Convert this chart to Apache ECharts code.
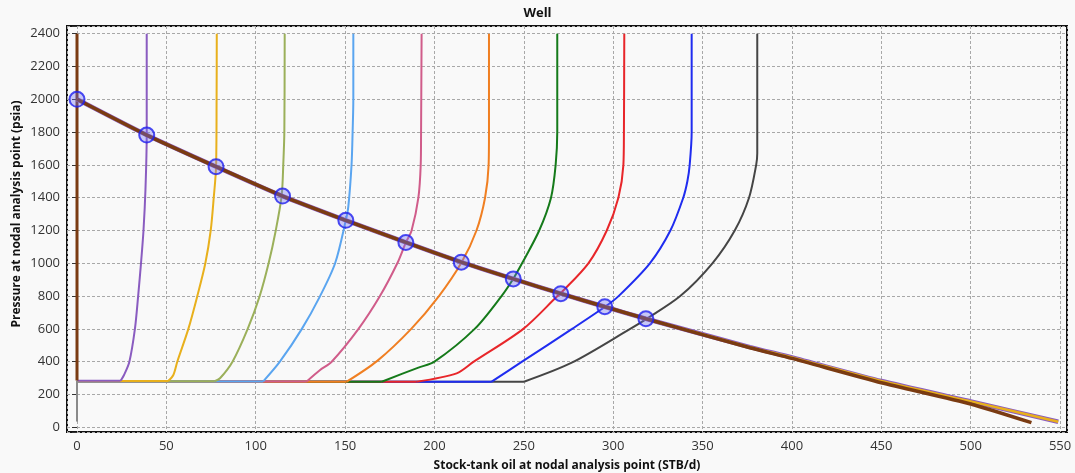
<!DOCTYPE html>
<html><head><meta charset="utf-8">
<script src="https://cdn.jsdelivr.net/npm/echarts@6/dist/echarts.min.js"></script>
<style>html,body{margin:0;padding:0;background:#f9f9f9}#c{width:1075px;height:473px}</style>
</head><body><div id="c"></div>
<script>
// ---- data (rate STB/d, pressure psia) ----
const xTickValues = [0,50,100,150,200,250,300,350,400,450,500,550];
const yTickValues = [0,200,400,600,800,1000,1200,1400,1600,1800,2000,2200,2400];

const vlpBrown  = [[0,2400],[0,285]];
const stemGray  = [[0,285],[0,35]];
const vlpPurple = [[39,2400],[39,1782],[38.3,1450],[37.2,1200],[35.8,1000],[34.2,800],[32.4,600],[29.3,400],[26.3,319],[24.4,284],[0,284]];
const vlpYellow = [[78.2,2400],[78.1,2000],[77.8,1589],[76.5,1400],[74.8,1200],[71.8,1000],[67.3,800],[62.3,600],[56.1,400],[53.9,319],[51,282],[0,282]];
const vlpOlive  = [[116.2,2400],[116,1800],[115.4,1600],[114.5,1412],[111.2,1200],[107.2,1000],[102.2,800],[95.5,600],[87,400],[80,299],[77,281],[0,281]];
const vlpSky    = [[154.6,2400],[154.6,2000],[154.2,1800],[153.6,1600],[151.8,1345],[150.4,1262],[144.4,1000],[136,800],[125.8,600],[113.5,400],[104.2,280],[0,280]];
const vlpPink   = [[192.8,2400],[192.5,1800],[192.3,1600],[191,1400],[187.2,1200],[184,1127],[179.2,1000],[169.5,800],[157.5,600],[142.5,400],[136,349],[128.5,279],[0,279]];
const vlpOrange = [[230.5,2400],[230.5,1800],[230.3,1600],[228.3,1400],[223.5,1200],[215.2,1006],[202.5,800],[187,600],[168,405],[150.9,278],[0,278]];
const vlpGreen  = [[268.7,2400],[268.7,1800],[267.8,1600],[265.2,1400],[258.6,1200],[249,1000],[244.1,906],[237.5,800],[222.5,600],[200,400],[191,364],[170.5,278],[0,278]];
const vlpRed    = [[306.2,2400],[306,1800],[305.7,1600],[302.9,1400],[296.4,1200],[286.1,1000],[270.6,817],[268.8,800],[249.7,600],[222,400],[212.4,329],[190,278],[0,278]];
const vlpBlue   = [[343.9,2400],[343.9,1800],[342.8,1600],[341.5,1500],[339.2,1400],[332,1200],[320.5,1000],[303,800],[295.4,735],[277,600],[249,400],[232,278],[0,278]];
const vlpGray   = [[380.6,2400],[380.6,1671],[380,1600],[376,1400],[368,1200],[355.5,1000],[337.5,800],[318.2,658],[309.5,600],[276.8,394],[250.1,278],[0,278]];

const iprMain = [[0,2000],[39,1782],[77.8,1589],[115,1410],[150.4,1262],[184,1127],[215,1007],[244.1,905],[270.7,815],[295.3,735],[318.3,662],[376.5,485],[400,420],[450,272],[500,142],[534,28]];
const iprAlt  = [[0,2000],[39,1782],[77.8,1589],[115,1410],[150.4,1262],[184,1127],[215,1007],[244.1,905],[270.7,815],[295.3,735],[318.3,662],[376.5,489],[400,426],[450,282],[500,158],[549,34]];

const opQ = [0,39,77.8,115,150.4,184,215,244.1,270.7,295.3,318.3];
const opP = [2000,1782,1589,1410,1262,1127,1007,905,815,735,662];

// ---- chart ----
const curves = [
  {d: vlpGray,   c: '#454545'},
  {d: vlpBlue,   c: '#1f2cf0'},
  {d: vlpRed,    c: '#e8262a'},
  {d: vlpGreen,  c: '#157a1a'},
  {d: vlpOrange, c: '#f07f22'},
  {d: vlpPink,   c: '#d05c8a'},
  {d: vlpSky,    c: '#5aa5f0'},
  {d: vlpOlive,  c: '#9bb05a'},
  {d: vlpYellow, c: '#e8b01c'},
  {d: vlpPurple, c: '#8a5cc0'}
];
const lineSeries = [];
curves.forEach(k => {
  // curved part (smooth) and flat foot (straight) so the foot corner stays sharp
  lineSeries.push({type:'line', data:k.d.slice(-2), symbol:'none', lineStyle:{color:k.c, width:2}, z:2});
  lineSeries.push({type:'line', data:k.d.slice(0, -1), symbol:'none', smooth:0.3,
    lineStyle:{color:k.c, width:2}, z:2});
});
lineSeries.push({type:'line', data: stemGray, symbol:'none', lineStyle:{color:'#8a8a8a', width:2}, z:2});
lineSeries.push({type:'line', data: vlpBrown, symbol:'none', lineStyle:{color:'#7a3b12', width:3}, z:3});
lineSeries.push({type:'line', data: iprAlt, symbol:'none', smooth:0.2, lineStyle:{color:'#8a5cc0', width:4.5}, z:4});
lineSeries.push({type:'line', data: iprAlt, symbol:'none', smooth:0.2, lineStyle:{color:'#e8b01c', width:2.5}, z:4});
lineSeries.push({type:'line', data: iprMain, symbol:'none', smooth:0.2, lineStyle:{color:'#7a3b12', width:3.5}, z:5});
lineSeries.push({
  type:'scatter', data: opQ.map((q,i)=>[q, opP[i]]), symbol:'circle', symbolSize:15, z:10,
  itemStyle:{color:'rgba(110,110,240,0.45)', borderColor:'#1f1fef', borderWidth:2}
});

const chart = echarts.init(document.getElementById('c'), null, {renderer:'canvas'});
const fontFam = '"Open Sans","Noto Sans",sans-serif';
chart.setOption({
  animation: false,
  backgroundColor: '#f9f9f9',
  title: {text:'Well', left:'center', top:2, textStyle:{fontSize:13, fontWeight:'bold', color:'#111', fontFamily:fontFam}},
  grid: {left:67, right:8, top:26, bottom:41, show:true, borderColor:'#111', borderWidth:2, backgroundColor:'#f9f9f9'},
  xAxis: {
    type:'value', min:-5.6, max:553.9, splitNumber:11,
    axisLine:{show:false}, axisTick:{show:false},
    axisLabel:{fontSize:13, color:'#333', margin:8, fontFamily:fontFam,
      formatter: v => xTickValues.some(t => Math.abs(t - v) < 1e-6) ? String(Math.round(v)) : ''},
    splitLine:{show:true, lineStyle:{color:'#a8a8a8', type:[3,2], width:1}}
  },
  yAxis: {
    type:'value', min:-28.7, max:2447, splitNumber:12,
    axisLine:{show:false},
    axisTick:{show:true, length:5, lineStyle:{color:'#333'}},
    axisLabel:{fontSize:13, color:'#333', margin:7, fontFamily:fontFam,
      formatter: v => yTickValues.some(t => Math.abs(t - v) < 1e-6) ? String(Math.round(v)) : ''},
    splitLine:{show:true, lineStyle:{color:'#a8a8a8', type:[3,2], width:1}}
  },
  graphic: [
    {type:'text', x:567, y:466, style:{text:'Stock-tank oil at nodal analysis point (STB/d)', font:'bold 12px '+fontFam, fill:'#111', align:'center', verticalAlign:'middle'}},
    {type:'text', x:17, y:214, rotation:Math.PI/2, style:{text:'Pressure at nodal analysis point (psia)', font:'bold 12px '+fontFam, fill:'#111', align:'center', verticalAlign:'middle'}}
  ],
  series: lineSeries
});
</script></body></html>
